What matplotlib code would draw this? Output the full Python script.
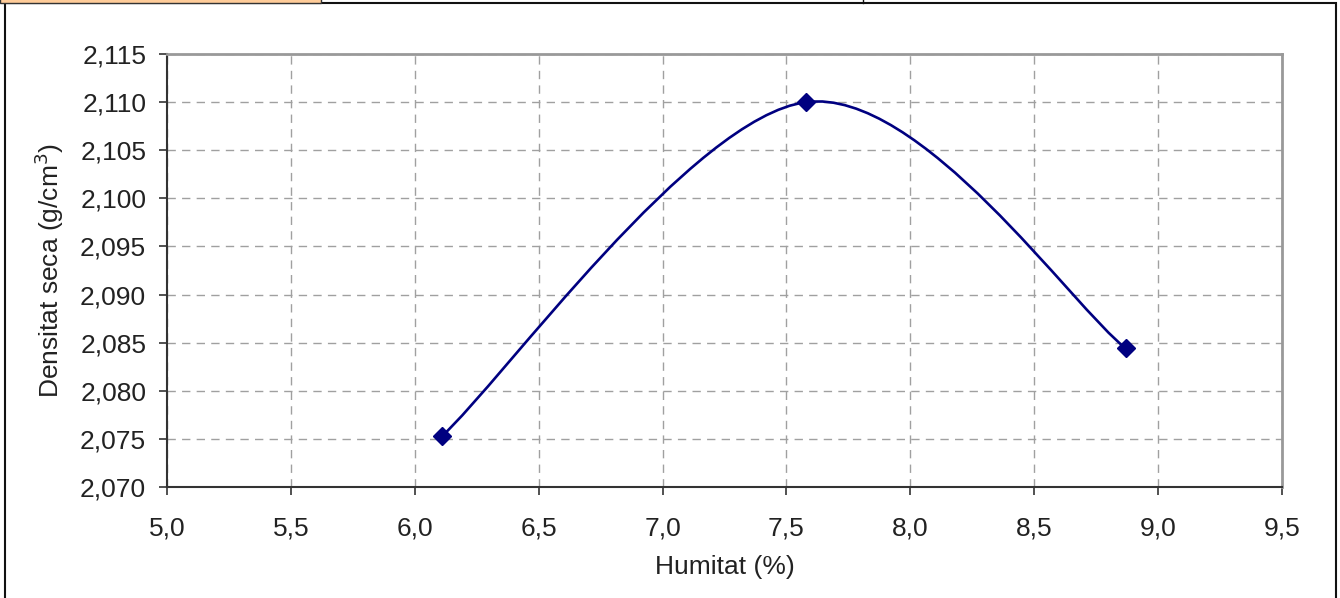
import numpy as np
import matplotlib.pyplot as plt
from matplotlib.path import Path
from matplotlib.patches import PathPatch, Rectangle
from matplotlib.ticker import FuncFormatter, MultipleLocator

plt.rcParams['font.family'] = ['Liberation Sans', 'DejaVu Sans']

humitat = [6.11, 7.58, 8.87]
densitat = [2.0753, 2.1100, 2.0844]

x_lim = (5.0, 9.5)
y_lim = (2.070, 2.115)

navy = '#000080'


def excel_smooth(xs, ys):
    # bezier segments like Excel's "smoothed line"
    p = np.column_stack([xs, ys])
    n = len(p)
    verts = [p[0]]
    codes = [Path.MOVETO]
    for i in range(n - 1):
        prev = p[i - 1] if i > 0 else p[i]
        nxt = p[i + 2] if i + 2 < n else p[i + 1]
        c1 = p[i] + (p[i + 1] - prev) / 6
        c2 = p[i + 1] - (nxt - p[i]) / 6
        verts += [c1, c2, p[i + 1]]
        codes += [Path.CURVE4] * 3
    return Path(verts, codes)


fig = plt.figure(figsize=(13.4, 5.98), dpi=100)
ax = fig.add_axes([167 / 1340, 1 - 487 / 598, 1115 / 1340, 433 / 598])

ax.add_patch(PathPatch(excel_smooth(humitat, densitat), facecolor='none',
                       edgecolor=navy, lw=1.9, zorder=3))
ax.plot(humitat, densitat, linestyle='none', marker='D', color=navy,
        markersize=9.5, zorder=4)

ax.set_xlim(*x_lim)
ax.set_ylim(*y_lim)
ax.xaxis.set_major_locator(MultipleLocator(0.5))
ax.yaxis.set_major_locator(MultipleLocator(0.005))
ax.xaxis.set_major_formatter(FuncFormatter(lambda v, p: f"{v:.1f}".replace('.', ',')))
ax.yaxis.set_major_formatter(FuncFormatter(lambda v, p: f"{v:.3f}".replace('.', ',')))

ax.grid(True, color='#a0a0a0', linestyle=(0, (6, 4.5)), lw=1)
for s in ['left', 'bottom']:
    ax.spines[s].set_color('#333333')
    ax.spines[s].set_linewidth(1.5)
for s in ['top', 'right']:
    ax.spines[s].set_color('#999999')
    ax.spines[s].set_linewidth(2)

ax.tick_params(direction='out', length=6, width=1.2, color='#333333',
               labelsize=19, labelcolor='#222222')
ax.tick_params(axis='x', pad=15)
ax.tick_params(axis='y', pad=9)
ax.set_xlabel("Humitat (%)", fontsize=19, color='#222222', labelpad=11)
ax.set_ylabel("Densitat seca (g/cm$^3$)", fontsize=19, color='#222222', labelpad=10)

# outer frame and top strip
fig.patches.append(Rectangle((5 / 1340, -0.01), 1331 / 1340, 1 - 3 / 598 + 0.01,
                             transform=fig.transFigure, fill=False,
                             edgecolor='#111111', lw=1.5))
fig.patches.append(Rectangle((0, 1 - 3 / 598), 321 / 1340, 0.02,
                             transform=fig.transFigure, facecolor='#FFCC99',
                             edgecolor='#333333', lw=1))
fig.lines.append(plt.Line2D([863 / 1340, 863 / 1340], [1 - 3 / 598, 1],
                            transform=fig.transFigure, color='#111111', lw=1))

plt.savefig('out.png', dpi=100)
